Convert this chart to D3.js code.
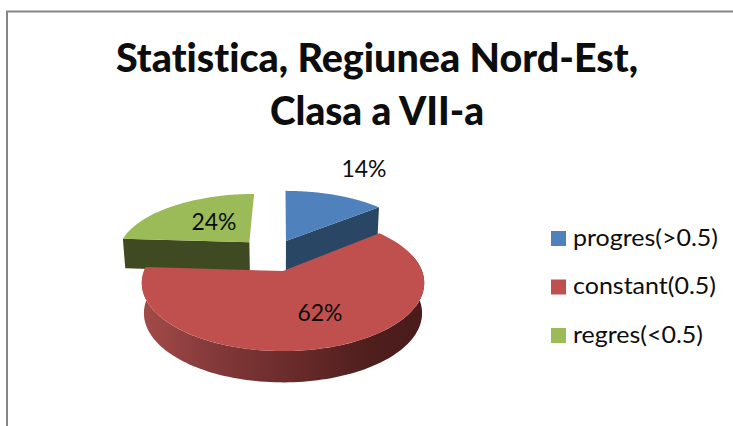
<!DOCTYPE html>
<html><head><meta charset="utf-8">
<script src="https://cdn.jsdelivr.net/npm/d3@7"></script>
<style>html,body{margin:0;padding:0;background:#fff;overflow:hidden}svg{display:block}text{font-family:Lato,"Open Sans",sans-serif;fill:#0d0d0d;font-variant-ligatures:none}</style>
</head><body><div id="c"></div>
<script>
const categories = ["progres(>0.5)", "constant(0.5)", "regres(<0.5)"];
const values = [14, 62, 24];
const colors = ["#4f81bd", "#c0504d", "#9bbb59"];
const sideColors = ["#2a4665", null, "#3f4a22"];
const titleLines = ["Statistica, Regiunea Nord-Est,", "Clasa a VII-a"];

const W = 733, H = 426;
const svg = d3.select("#c").append("svg").attr("width", W).attr("height", H);

// border
svg.append("path").attr("d", `M7,${H}V11.5H${W}`).attr("fill", "none").attr("stroke", "#868686").attr("stroke-width", 2);

// title
svg.selectAll(".t").data(titleLines).join("text").attr("class", "t")
  .attr("x", 377).attr("y", (d, i) => i ? 125 : 72).attr("text-anchor", "middle")
  .attr("font-size", 39).attr("font-weight", 900)
  .attr("textLength", (d, i) => i ? 214 : 522).attr("lengthAdjust", "spacingAndGlyphs").text(d => d);

// perspective projection of the pie plane
const cx = 283, cy = 271, A = 139, B = 66, K = 0.176;
const proj = (u, v, low) => {
  const s = 1 / (1 - K * v);
  const x = A * u * s * (low ? 0.985 : 1);
  const y = B * v * s + (low ? 24 + 6 * s : 0);
  return [cx + x, cy + y];
};
const explode = [[0.023, -0.494], [0, 0], [-0.262, -0.47]];
const radius = [1.05, 1, 1];
const arcs = d3.pie().sort(null).value(d => d)(values);
const pt = (i, a, r, low) => {
  const [ou, ov] = explode[i];
  return proj(ou + r * radius[i] * Math.sin(a), ov - r * radius[i] * Math.cos(a), low);
};
const line = d3.line();
const arcPts = (i, a0, a1, low) => d3.range(0, 121).map(k => pt(i, a0 + (a1 - a0) * k / 120, 1, low));

const defs = svg.append("defs");
const grad = defs.append("linearGradient").attr("id", "rim").attr("gradientUnits", "userSpaceOnUse")
  .attr("x1", 142).attr("x2", 424).attr("y1", 0).attr("y2", 0);
[[0, "#a34b48"], [0.25, "#84393a"], [0.55, "#682a29"], [0.8, "#4f1f1e"], [1, "#4a1b1a"]]
  .forEach(([o, c]) => grad.append("stop").attr("offset", o).attr("stop-color", c));

const g = svg.append("g");
// side cut faces of the exploded slices
[0, 2].forEach(i => {
  const a = i === 0 ? arcs[i].endAngle : arcs[i].startAngle;
  const quad = [pt(i, a, 0, false), pt(i, a, 1, false), pt(i, a, 1, true), pt(i, a, 0, true)];
  g.append("path").attr("d", line(quad) + "Z").attr("fill", sideColors[i]);
});
// top faces of exploded slices
[0, 2].forEach(i => {
  const d = arcs[i];
  g.append("path").attr("d", line([pt(i, 0, 0, false), ...arcPts(i, d.startAngle, d.endAngle, false)]) + "Z").attr("fill", colors[i]);
});
// big slice rim: the front half, extreme left to extreme right
const r = arcs[1];
const rim = [...arcPts(1, Math.PI * 0.42, r.endAngle, false), ...arcPts(1, Math.PI * 0.42, r.endAngle, true).reverse()];
g.append("path").attr("d", line(rim) + "Z").attr("fill", "url(#rim)");
g.append("path").attr("d", line([pt(1, 0, 0, false), ...arcPts(1, r.startAngle, r.endAngle, false)]) + "Z").attr("fill", colors[1]);

// value labels
const labelPos = [[364, 177], [320, 321], [214, 230]];
svg.selectAll(".v").data(values).join("text").attr("class", "v")
  .attr("x", (d, i) => labelPos[i][0]).attr("y", (d, i) => labelPos[i][1])
  .attr("text-anchor", "middle").attr("font-size", 24)
  .attr("textLength", 45).attr("lengthAdjust", "spacingAndGlyphs").text(d => d + "%");

// legend
const ly = d3.scalePoint().domain(categories).range([231, 328]);
const lg = svg.selectAll(".l").data(categories).join("g").attr("class", "l").attr("transform", d => `translate(551,${ly(d)})`);
lg.append("rect").attr("width", 15).attr("height", 15).attr("fill", (d, i) => colors[i]);
lg.append("text").attr("x", 22).attr("y", 14.5).attr("font-size", 24)
  .attr("textLength", (d, i) => [145, 143, 130][i]).attr("lengthAdjust", "spacingAndGlyphs").text(d => d);
</script></body></html>
